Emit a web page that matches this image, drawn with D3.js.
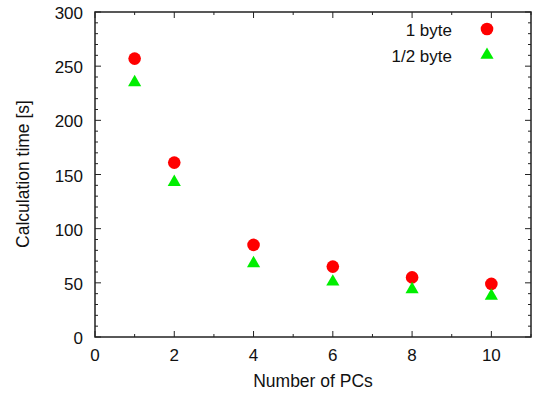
<!DOCTYPE html>
<html>
<head>
<meta charset="utf-8">
<script src="https://cdn.jsdelivr.net/npm/d3@7"></script>
<style>
  body { margin: 0; background: #fff; }
  svg { display: block; font-family: "Liberation Sans", Arial, sans-serif; }
</style>
</head>
<body>
<div id="chart"></div>
<script>
const pcs = [1, 2, 4, 6, 8, 10]
const oneByte = [257, 161, 85, 65, 55, 49]
const halfByte = [235, 143, 68, 51, 44, 38]
const xTicks = [0, 2, 4, 6, 8, 10]
const yTicks = [0, 50, 100, 150, 200, 250, 300]

const width = 533
const height = 394
const margin = {top: 12, right: 2, bottom: 57, left: 95}

const svg = d3.select("#chart")
  .append("svg")
  .attr("width", width)
  .attr("height", height)

const x = d3.scaleLinear().domain([0, 11]).range([margin.left, width - margin.right])
const y = d3.scaleLinear().domain([0, 300]).range([height - margin.bottom, margin.top])

const axisColor = "#222"
const textColor = "#111"

// ticks on all four sides, pointing inward
function tickLines(g, axis, vals, len) {
  vals.forEach(v => {
    if (axis === "x") {
      g.append("line").attr("x1", x(v)).attr("x2", x(v)).attr("y1", y(0)).attr("y2", y(0) - len)
      g.append("line").attr("x1", x(v)).attr("x2", x(v)).attr("y1", y(300)).attr("y2", y(300) + len)
    } else {
      g.append("line").attr("y1", y(v)).attr("y2", y(v)).attr("x1", x(0)).attr("x2", x(0) + len)
      g.append("line").attr("y1", y(v)).attr("y2", y(v)).attr("x1", x(11)).attr("x2", x(11) - len)
    }
  })
}

const ticks = svg.append("g").attr("stroke", axisColor).attr("stroke-width", 1)
tickLines(ticks, "x", d3.range(0, 12, 2), 6)
tickLines(ticks, "x", d3.range(1, 12, 2), 3)
tickLines(ticks, "y", yTicks, 6)
tickLines(ticks, "y", d3.range(0, 301, 10).filter(v => v % 50 !== 0), 3)

svg.append("rect")
  .attr("x", x(0)).attr("y", y(300))
  .attr("width", x(11) - x(0)).attr("height", y(0) - y(300))
  .attr("fill", "none").attr("stroke", axisColor).attr("stroke-width", 1.5)

svg.append("g").selectAll("text").data(xTicks).join("text")
  .attr("x", d => x(d)).attr("y", y(0) + 24)
  .attr("text-anchor", "middle").attr("font-size", 17).attr("fill", textColor)
  .text(d => d)

svg.append("g").selectAll("text").data(yTicks).join("text")
  .attr("x", x(0) - 12).attr("y", d => y(d) + 7)
  .attr("text-anchor", "end").attr("font-size", 17).attr("fill", textColor)
  .text(d => d)

svg.append("text")
  .attr("x", 313).attr("y", 387)
  .attr("text-anchor", "middle").attr("font-size", 17.5).attr("fill", textColor)
  .text("Number of PCs")

svg.append("text")
  .attr("transform", `translate(28.5,174) rotate(-90)`)
  .attr("text-anchor", "middle").attr("font-size", 17.5).attr("fill", textColor)
  .text("Calculation time [s]")

const tri = d3.symbol().type(d3.symbolTriangle).size(75)

svg.append("g").selectAll("circle").data(pcs).join("circle")
  .attr("cx", d => x(d)).attr("cy", (d, i) => y(oneByte[i]))
  .attr("r", 6.3).attr("fill", "#ff0000")

svg.append("g").selectAll("path").data(pcs).join("path")
  .attr("d", tri)
  .attr("transform", (d, i) => `translate(${x(d)},${y(halfByte[i])})`)
  .attr("fill", "#00ee00")

// legend
const legend = svg.append("g")
legend.append("text").attr("x", 452).attr("y", 36).attr("text-anchor", "end")
  .attr("font-size", 17).attr("fill", textColor).text("1 byte")
legend.append("circle").attr("cx", 487).attr("cy", 29).attr("r", 6.3).attr("fill", "#ff0000")
legend.append("text").attr("x", 452).attr("y", 61.5).attr("text-anchor", "end")
  .attr("font-size", 17).attr("fill", textColor).text("1/2 byte")
legend.append("path").attr("d", tri).attr("transform", "translate(487,55)").attr("fill", "#00ee00")
</script>
</body>
</html>
